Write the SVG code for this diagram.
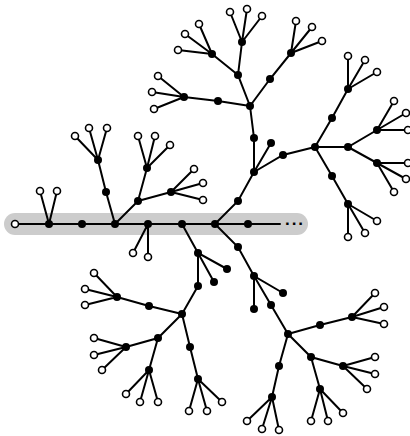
<svg xmlns="http://www.w3.org/2000/svg" width="410" height="436" viewBox="0 0 410 436">
<style>
.f{fill:#000;r:4px}
.o{fill:#fff;stroke:#000;stroke-width:1.6;r:3.5px}
.e{fill:none;stroke:#000;stroke-width:2;stroke-linecap:round}
.band{fill:#cccccc}
.dots{font-family:"Liberation Sans",Arial,sans-serif;font-size:17px;font-weight:bold;fill:#000}
</style>
<rect class="band" x="4" y="213" width="304" height="22" rx="11"/>
<g id="connectors">
<path class="e" d="M15 224 L280 224
M49 224 L40 191 M49 224 L57 191
M115 224 L106 192 L98 160 M98 160 L75 136 M98 160 L89 128 M98 160 L107 128
M115 224 L138 201 L147 168 M147 168 L138 136 M147 168 L155 136 M147 168 L170 145
M138 201 L171 192 M171 192 L194 169 M171 192 L203 183 M171 192 L203 200
M148 224 L133 253 M148 224 L148 257
M182 224 L198 253 L227 269 M198 253 L214 282 M198 253 L198 286 L182 314
M182 314 L149 306 L117 297 M117 297 L94 273 M117 297 L85 289 M117 297 L85 305
M182 314 L158 338 L126 347 M126 347 L94 338 M126 347 L94 355 M126 347 L102 370
M158 338 L149 370 M149 370 L126 394 M149 370 L140 402 M149 370 L158 402
M182 314 L190 347 L198 379 M198 379 L189 411 M198 379 L207 411 M198 379 L222 402
M215 224 L238 201 L254 172 L254 138 L250 106
M254 172 L271 143
M254 172 L283 155 L315 147
M250 106 L238 75 L242 42 M242 42 L230 12 M242 42 L247 9 M242 42 L262 16
M238 75 L212 54 M212 54 L178 50 M212 54 L185 34 M212 54 L199 24
M250 106 L218 101 L184 97 M184 97 L158 76 M184 97 L152 92 M184 97 L154 109
M250 106 L270 79 L291 53 M291 53 L296 21 M291 53 L312 27 M291 53 L322 41
M315 147 L332 118 L348 89 M348 89 L348 56 M348 89 L365 60 M348 89 L377 72
M315 147 L348 147 L377 130 M377 130 L394 101 M377 130 L406 113 M377 130 L408 130
M348 147 L377 163 M377 163 L408 163 M377 163 L406 179 M377 163 L394 192
M315 147 L332 176 L348 204 M348 204 L377 221 M348 204 L365 233 M348 204 L348 237
M215 224 L238 247 L254 276 L283 293 M254 276 L254 309 M254 276 L271 305 L288 334
M288 334 L320 325 L352 317 M352 317 L375 293 M352 317 L384 307 M352 317 L384 324
M288 334 L311 357 L343 366 M343 366 L375 357 M343 366 L375 374 M343 366 L367 389
M311 357 L320 389 M320 389 L311 421 M320 389 L328 421 M320 389 L343 413
M288 334 L279 366 L272 397 M272 397 L247 421 M272 397 L262 429 M272 397 L279 430"/>
</g>
<text class="dots" x="295" y="229" text-anchor="middle" letter-spacing="1">···</text>
<g id="nodes">
<g id="s1"><circle class="f" cx="49" cy="224"/></g>
<g id="s2"><circle class="f" cx="82" cy="224"/></g>
<g id="s3"><circle class="f" cx="115" cy="224"/></g>
<g id="s4"><circle class="f" cx="148" cy="224"/></g>
<g id="s5"><circle class="f" cx="182" cy="224"/></g>
<g id="s6"><circle class="f" cx="215" cy="224"/></g>
<g id="s7"><circle class="f" cx="248" cy="224"/></g>
<g id="a1"><circle class="f" cx="106" cy="192"/></g>
<g id="a2"><circle class="f" cx="98" cy="160"/></g>
<g id="b1"><circle class="f" cx="138" cy="201"/></g>
<g id="b2"><circle class="f" cx="147" cy="168"/></g>
<g id="b3"><circle class="f" cx="171" cy="192"/></g>
<g id="c1"><circle class="f" cx="198" cy="253"/></g>
<g id="c2"><circle class="f" cx="227" cy="269"/></g>
<g id="c3"><circle class="f" cx="214" cy="282"/></g>
<g id="c4"><circle class="f" cx="198" cy="286"/></g>
<g id="d1"><circle class="f" cx="182" cy="314"/></g>
<g id="d2"><circle class="f" cx="149" cy="306"/></g>
<g id="d3"><circle class="f" cx="117" cy="297"/></g>
<g id="d4"><circle class="f" cx="158" cy="338"/></g>
<g id="d5"><circle class="f" cx="126" cy="347"/></g>
<g id="d6"><circle class="f" cx="149" cy="370"/></g>
<g id="d7"><circle class="f" cx="190" cy="347"/></g>
<g id="d8"><circle class="f" cx="198" cy="379"/></g>
<g id="e1"><circle class="f" cx="238" cy="201"/></g>
<g id="e2"><circle class="f" cx="254" cy="172"/></g>
<g id="e3"><circle class="f" cx="254" cy="138"/></g>
<g id="e4"><circle class="f" cx="250" cy="106"/></g>
<g id="e5"><circle class="f" cx="271" cy="143"/></g>
<g id="e6"><circle class="f" cx="283" cy="155"/></g>
<g id="e7"><circle class="f" cx="315" cy="147"/></g>
<g id="e8"><circle class="f" cx="238" cy="75"/></g>
<g id="e9"><circle class="f" cx="242" cy="42"/></g>
<g id="e10"><circle class="f" cx="212" cy="54"/></g>
<g id="e11"><circle class="f" cx="218" cy="101"/></g>
<g id="e12"><circle class="f" cx="184" cy="97"/></g>
<g id="e13"><circle class="f" cx="270" cy="79"/></g>
<g id="e14"><circle class="f" cx="291" cy="53"/></g>
<g id="e15"><circle class="f" cx="332" cy="118"/></g>
<g id="e16"><circle class="f" cx="348" cy="89"/></g>
<g id="e17"><circle class="f" cx="348" cy="147"/></g>
<g id="e18"><circle class="f" cx="377" cy="130"/></g>
<g id="e19"><circle class="f" cx="377" cy="163"/></g>
<g id="e20"><circle class="f" cx="332" cy="176"/></g>
<g id="e21"><circle class="f" cx="348" cy="204"/></g>
<g id="g1"><circle class="f" cx="238" cy="247"/></g>
<g id="g2"><circle class="f" cx="254" cy="276"/></g>
<g id="g3"><circle class="f" cx="283" cy="293"/></g>
<g id="g4"><circle class="f" cx="254" cy="309"/></g>
<g id="g5"><circle class="f" cx="271" cy="305"/></g>
<g id="g6"><circle class="f" cx="288" cy="334"/></g>
<g id="g7"><circle class="f" cx="320" cy="325"/></g>
<g id="g8"><circle class="f" cx="352" cy="317"/></g>
<g id="g9"><circle class="f" cx="311" cy="357"/></g>
<g id="g10"><circle class="f" cx="343" cy="366"/></g>
<g id="g11"><circle class="f" cx="320" cy="389"/></g>
<g id="g12"><circle class="f" cx="279" cy="366"/></g>
<g id="g13"><circle class="f" cx="272" cy="397"/></g>
<g id="l1"><circle class="o" cx="15" cy="224"/></g>
<g id="l2"><circle class="o" cx="40" cy="191"/></g>
<g id="l3"><circle class="o" cx="57" cy="191"/></g>
<g id="l4"><circle class="o" cx="75" cy="136"/></g>
<g id="l5"><circle class="o" cx="89" cy="128"/></g>
<g id="l6"><circle class="o" cx="107" cy="128"/></g>
<g id="l7"><circle class="o" cx="138" cy="136"/></g>
<g id="l8"><circle class="o" cx="155" cy="136"/></g>
<g id="l9"><circle class="o" cx="170" cy="145"/></g>
<g id="l10"><circle class="o" cx="194" cy="169"/></g>
<g id="l11"><circle class="o" cx="203" cy="183"/></g>
<g id="l12"><circle class="o" cx="203" cy="200"/></g>
<g id="l13"><circle class="o" cx="133" cy="253"/></g>
<g id="l14"><circle class="o" cx="148" cy="257"/></g>
<g id="l15"><circle class="o" cx="94" cy="273"/></g>
<g id="l16"><circle class="o" cx="85" cy="289"/></g>
<g id="l17"><circle class="o" cx="85" cy="305"/></g>
<g id="l18"><circle class="o" cx="94" cy="338"/></g>
<g id="l19"><circle class="o" cx="94" cy="355"/></g>
<g id="l20"><circle class="o" cx="102" cy="370"/></g>
<g id="l21"><circle class="o" cx="126" cy="394"/></g>
<g id="l22"><circle class="o" cx="140" cy="402"/></g>
<g id="l23"><circle class="o" cx="158" cy="402"/></g>
<g id="l24"><circle class="o" cx="189" cy="411"/></g>
<g id="l25"><circle class="o" cx="207" cy="411"/></g>
<g id="l26"><circle class="o" cx="222" cy="402"/></g>
<g id="l27"><circle class="o" cx="230" cy="12"/></g>
<g id="l28"><circle class="o" cx="247" cy="9"/></g>
<g id="l29"><circle class="o" cx="262" cy="16"/></g>
<g id="l30"><circle class="o" cx="178" cy="50"/></g>
<g id="l31"><circle class="o" cx="185" cy="34"/></g>
<g id="l32"><circle class="o" cx="199" cy="24"/></g>
<g id="l33"><circle class="o" cx="158" cy="76"/></g>
<g id="l34"><circle class="o" cx="152" cy="92"/></g>
<g id="l35"><circle class="o" cx="154" cy="109"/></g>
<g id="l36"><circle class="o" cx="296" cy="21"/></g>
<g id="l37"><circle class="o" cx="312" cy="27"/></g>
<g id="l38"><circle class="o" cx="322" cy="41"/></g>
<g id="l39"><circle class="o" cx="348" cy="56"/></g>
<g id="l40"><circle class="o" cx="365" cy="60"/></g>
<g id="l41"><circle class="o" cx="377" cy="72"/></g>
<g id="l42"><circle class="o" cx="394" cy="101"/></g>
<g id="l43"><circle class="o" cx="406" cy="113"/></g>
<g id="l44"><circle class="o" cx="408" cy="130"/></g>
<g id="l45"><circle class="o" cx="408" cy="163"/></g>
<g id="l46"><circle class="o" cx="406" cy="179"/></g>
<g id="l47"><circle class="o" cx="394" cy="192"/></g>
<g id="l48"><circle class="o" cx="377" cy="221"/></g>
<g id="l49"><circle class="o" cx="365" cy="233"/></g>
<g id="l50"><circle class="o" cx="348" cy="237"/></g>
<g id="l51"><circle class="o" cx="375" cy="293"/></g>
<g id="l52"><circle class="o" cx="384" cy="307"/></g>
<g id="l53"><circle class="o" cx="384" cy="324"/></g>
<g id="l54"><circle class="o" cx="375" cy="357"/></g>
<g id="l55"><circle class="o" cx="375" cy="374"/></g>
<g id="l56"><circle class="o" cx="367" cy="389"/></g>
<g id="l57"><circle class="o" cx="311" cy="421"/></g>
<g id="l58"><circle class="o" cx="328" cy="421"/></g>
<g id="l59"><circle class="o" cx="343" cy="413"/></g>
<g id="l60"><circle class="o" cx="247" cy="421"/></g>
<g id="l61"><circle class="o" cx="262" cy="429"/></g>
<g id="l62"><circle class="o" cx="279" cy="430"/></g>
</g>
</svg>
